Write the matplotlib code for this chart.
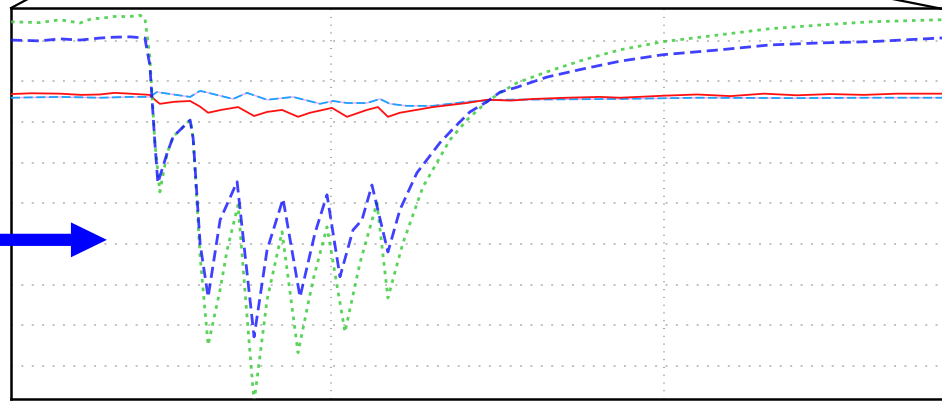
import matplotlib
matplotlib.use("Agg")
import matplotlib.pyplot as plt
from matplotlib.lines import Line2D
from matplotlib.patches import FancyArrow

# time axis (gridlines at 10 and 20) and signal values (gridlines at integers)
green_t = [0.39, 1.26, 1.86, 2.46, 2.86, 3.06, 3.46, 3.96, 4.26, 4.41, 4.56, 4.71, 4.86,
           5.08, 5.26, 5.77, 5.86, 6.07, 6.31, 6.67, 6.88, 7.21, 7.45, 7.69, 8.08, 8.53,
           9.01, 9.46, 9.88, 10.42, 10.87, 11.38, 11.71, 12.16, 12.76, 13.57, 14.08, 14.68,
           15.08, 15.59, 16.49, 17.57, 18.68, 19.97, 21.68, 23.18, 24.68, 26.19, 28.29, 29.0]
green_v = [5.47, 5.45, 5.52, 5.44, 5.56, 5.55, 5.60, 5.60, 5.63, 5.57, 4.60, 2.50, 1.28,
           2.24, 2.64, 3.05, 2.60, -0.32, -2.49, -1.13, -0.15, 0.96, -1.50, -3.90, -1.38, 0.30,
           -2.68, -0.89, 0.42, -2.17, -0.47, 1.01, -1.33, 0.02, 1.40, 2.56, 3.05, 3.50,
           3.72, 3.97, 4.24, 4.53, 4.78, 4.98, 5.15, 5.30, 5.39, 5.47, 5.52, 5.53]

blue_t = [0.39, 1.26, 1.86, 2.46, 3.06, 3.46, 3.96, 4.41, 4.56, 4.71, 4.80, 5.08, 5.26,
          5.77, 5.86, 6.07, 6.31, 6.67, 7.18, 7.45, 7.69, 8.08, 8.56, 9.07, 9.52, 9.88,
          10.27, 10.66, 10.93, 11.23, 11.71, 12.07, 12.58, 13.27, 13.66, 14.17, 14.68,
          15.08, 15.59, 16.49, 17.57, 18.68, 19.97, 21.68, 23.18, 24.68, 26.19, 28.29, 29.0]
blue_v = [5.02, 5.00, 5.05, 5.02, 5.07, 5.09, 5.10, 5.07, 4.40, 2.50, 1.50, 2.24, 2.64,
          3.05, 2.60, 0.00, -1.31, 0.59, 1.53, -0.50, -2.29, -0.15, 1.11, -1.31, 0.27, 1.21,
          -0.81, 0.34, 0.59, 1.45, -0.20, 0.84, 1.75, 2.49, 2.83, 3.25, 3.50,
          3.74, 3.86, 4.11, 4.31, 4.50, 4.66, 4.78, 4.90, 4.95, 4.98, 5.07, 5.08]

red_t = [0.39, 1.0, 1.86, 2.5, 3.06, 3.5, 3.96, 4.56, 4.71, 4.86, 5.30, 5.77, 6.07, 6.31,
         6.70, 7.21, 7.69, 8.08, 8.53, 9.01, 9.37, 10.03, 10.48, 11.08, 11.41, 11.71, 12.07,
         13.06, 14.08, 14.68, 15.4, 16.07, 17.09, 18.08, 18.68, 20.0, 21.0, 22.0, 23.0, 24.0,
         25.0, 26.0, 27.0, 28.3, 29.0]
red_v = [3.69, 3.71, 3.70, 3.67, 3.68, 3.72, 3.70, 3.67, 3.55, 3.45, 3.50, 3.52, 3.38, 3.23,
         3.30, 3.37, 3.15, 3.25, 3.30, 3.13, 3.23, 3.35, 3.13, 3.30, 3.37, 3.13, 3.23,
         3.37, 3.47, 3.55, 3.53, 3.57, 3.60, 3.62, 3.60, 3.65, 3.68, 3.64, 3.70, 3.66,
         3.69, 3.67, 3.70, 3.70, 3.70]

cyan_t = [0.39, 1.86, 3.06, 3.96, 4.56, 4.77, 5.77, 6.07, 7.06, 7.48, 8.08, 8.86, 9.58,
          9.67, 10.06, 10.48, 11.08, 11.47, 11.77, 12.28, 13.06, 14.08, 15.08, 18.68,
          21.0, 24.0, 26.0, 28.3, 29.0]
cyan_v = [3.60, 3.62, 3.60, 3.62, 3.62, 3.74, 3.62, 3.77, 3.57, 3.72, 3.55, 3.62, 3.47,
          3.45, 3.52, 3.47, 3.47, 3.57, 3.45, 3.40, 3.40, 3.50, 3.55, 3.57,
          3.60, 3.59, 3.60, 3.60, 3.60]

x_grid = [10, 20]
y_grid = [-3, -2, -1, 0, 1, 2, 3, 4, 5]

fig = plt.figure(figsize=(9.42, 4.01), dpi=100)
ax = fig.add_axes([11 / 942, 2 / 401, 949 / 942, 391 / 401])

ax.plot(cyan_t, cyan_v, color='#f0a8f0', lw=1.0, zorder=2)
ax.plot(cyan_t, cyan_v, color='#1aa3ff', lw=1.3, linestyle=(0, (5, 2)), zorder=3)
ax.plot(red_t, red_v, color='#ff1010', lw=1.3, zorder=4)
ax.plot(green_t, green_v, color='#3ccc3c', lw=2.0, alpha=0.85,
        linestyle=(0, (1.3, 1.8)), zorder=5)
ax.plot(blue_t, blue_v, color='#1010ff', lw=2.0, alpha=0.8,
        linestyle=(0, (4, 2)), zorder=6)

ax.set_xlim(0.39, 28.89)
ax.set_ylim(-3.82, 5.81)
ax.set_xticks(x_grid)
ax.set_yticks(y_grid)
ax.tick_params(length=0, labelbottom=False, labelleft=False)
ax.grid(axis='y', color='#b0b0b0', lw=1.1, linestyle=(0, (1.3, 5.5)), zorder=1)
ax.grid(axis='x', color='#a0a0a0', lw=1.4, linestyle=(0, (0.5, 3.5)), zorder=1)
for side in ax.spines.values():
    side.set_linewidth(1.8)

# blue pointer arrow at the left edge
arrow = FancyArrow(-0.09, 0.10, 3.36, 0, width=0.30, head_width=0.86, head_length=1.08,
                   length_includes_head=True, color='#0000ff', lw=0, clip_on=False, zorder=10)
ax.add_patch(arrow)

# zoom connector lines at the top corners
fig.add_artist(Line2D([0.0117, 0.0435], [0.980, 1.02], color='k', lw=1.6,
                      transform=fig.transFigure))
fig.add_artist(Line2D([0.940, 1.002], [1.006, 0.977], color='k', lw=1.6,
                      transform=fig.transFigure))

fig.savefig('out.png', dpi=100)
